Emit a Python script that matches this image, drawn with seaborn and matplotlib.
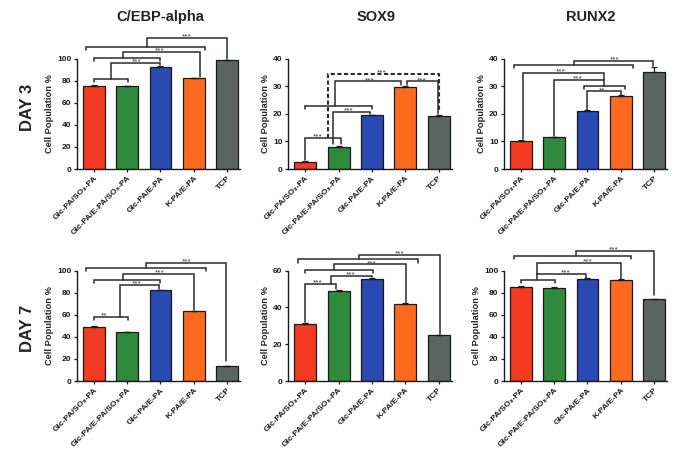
import matplotlib
matplotlib.use("Agg")
import matplotlib.pyplot as plt
import seaborn as sns
import pandas as pd
import numpy as np

sns.set_theme(style="ticks")
plt.rcParams['font.family'] = ['Liberation Sans', 'DejaVu Sans']

# ---------------- data ----------------
groups = ["Glc-PA/SO\u2083-PA", "Glc-PA/E-PA/SO\u2083-PA", "Glc-PA/E-PA", "K-PA/E-PA", "TCP"]
colors = ["#F53A22", "#2F8A3E", "#2A4AB3", "#FB6A1F", "#5A6562"]

markers = ["C/EBP-alpha", "SOX9", "RUNX2"]
days = ["DAY 3", "DAY 7"]

cebp_d3 = [75.5, 74.8, 92.5, 82.0, 98.5]
cebp_d3_err = [0.8, 0.7, 0.6, 0.6, 0.3]
sox9_d3 = [2.5, 8.1, 19.5, 29.7, 19.2]
sox9_d3_err = [0.3, 0.2, 0.2, 0.5, 0.3]
runx2_d3 = [10.3, 11.5, 21.0, 26.3, 35.2]
runx2_d3_err = [0.2, 0.2, 0.2, 0.4, 1.8]

cebp_d7 = [49.0, 43.9, 82.2, 63.0, 13.5]
cebp_d7_err = [0.8, 0.7, 0.6, 0.6, 0.3]
sox9_d7 = [31.0, 49.0, 55.5, 42.0, 25.0]
sox9_d7_err = [0.7, 0.6, 0.4, 0.3, 0.2]
runx2_d7 = [85.5, 84.3, 92.6, 91.6, 74.3]
runx2_d7_err = [0.5, 0.6, 0.6, 0.6, 0.3]

ytops = [[100, 40, 40], [100, 60, 100]]
ysteps = [[20, 10, 10], [20, 20, 20]]

values = [[cebp_d3, sox9_d3, runx2_d3], [cebp_d7, sox9_d7, runx2_d7]]
errors = [[cebp_d3_err, sox9_d3_err, runx2_d3_err], [cebp_d7_err, sox9_d7_err, runx2_d7_err]]

# significance annotations: ("g", x0, x1, y) group bracket; ("l", xa, ya, xb, yb, y, text, tx, dashed)
annots = [
    [
        [("g", 0, 1.02, 81.7), ("l", 0.5, 81.7, 2.0, 93.8, 95.8, "***", 1.28, False),
         ("g", 0, 2.0, 100.6), ("l", 0.87, 100.6, 3.19, 83.5, 106.3, "***", 1.98, False),
         ("g", -0.25, 3.34, 110.2), ("l", 1.6, 110.2, 4.0, 99.5, 118.6, "***", 2.8, False)],
        [("l", 0.0, 3.4, 1.07, 8.9, 11.4, "***", 0.38, False),
         ("g", 0, 2.0, 22.7), ("l", 0.82, 9.0, 1.93, 19.9, 20.6, "***", 1.3, False),
         ("l", 0.9, 22.7, 2.88, 30.3, 31.7, "***", 1.93, False),
         ("l", 3.06, 30.3, 3.98, 19.8, 31.7, "***", 3.48, False),
         ("l", 0.67, 11.4, 4.0, 21.0, 34.4, "***", 2.28, True)],
        [("l", 2.0, 21.3, 3.01, 26.9, 28.1, "**", 2.44, False),
         ("g", 1.89, 3.12, 30.2), ("l", 1.0, 11.9, 2.5, 30.2, 32.1, "***", 1.72, False),
         ("l", 0.04, 10.7, 2.5, 32.1, 34.8, "***", 1.19, False),
         ("g", -0.22, 3.36, 37.6), ("l", 1.59, 37.6, 3.99, 37.2, 39.0, "***", 2.81, False)],
    ],
    [
        [("g", 0, 1.03, 57.9), ("t", 0.31, 57.9, "**"),
         ("l", 0.78, 57.9, 1.95, 83.3, 87.0, "***", 1.28, False),
         ("g", 0, 2.0, 91.8), ("l", 0.88, 91.8, 3.0, 64.0, 97.0, "***", 1.98, False),
         ("g", -0.25, 3.36, 102.1), ("l", 1.56, 102.1, 3.99, 17.7, 107.0, "***", 2.8, False)],
        [("l", 0.0, 32.0, 0.92, 50.2, 52.7, "***", 0.36, False),
         ("l", 0.77, 52.7, 1.99, 56.2, 56.9, "***", 1.37, False),
         ("g", 0, 2.02, 60.5), ("l", 0.87, 60.5, 3.03, 42.6, 63.3, "***", 2.0, False),
         ("g", -0.23, 3.38, 66.0), ("l", 1.62, 66.0, 4.03, 25.6, 68.4, "***", 2.83, False)],
        [("g", 0, 1.02, 91.8), ("l", 0.49, 91.8, 1.97, 93.4, 97.0, "***", 1.34, False),
         ("l", 0.49, 97.0, 3.01, 92.4, 107.0, "***", 2.0, False),
         ("g", -0.23, 3.32, 113.0), ("l", 1.64, 113.0, 4.01, 78.0, 118.0, "***", 2.79, False)],
    ],
]

# ---------------- figure ----------------
fig = plt.figure(figsize=(6.86, 4.51), dpi=100)
lefts = [77, 288, 504]
widths = [163, 164, 163]
bottoms_px = [169, 381]
height_px = 110.5
W, H = 686, 451

line_c = "#2b2b2b"
lw_b = 1.1


def star(ax, x, y, txt):
    ax.annotate(txt, xy=(x, y), xytext=(0, -0.4), textcoords="offset points",
                ha="center", va="baseline", fontsize=6, color="#3a3a3a",
                annotation_clip=False, zorder=6)


for r in range(2):
    for c in range(3):
        ax = fig.add_axes([lefts[c] / W, (H - bottoms_px[r]) / H, widths[c] / W, height_px / H])
        df = pd.DataFrame({"group": groups, "value": values[r][c]})
        sns.barplot(data=df, x="group", y="value", hue="group", palette=colors, order=groups,
                    hue_order=groups, width=0.66, edgecolor="#1a1a1a", linewidth=0.9,
                    errorbar=None, legend=False, ax=ax, saturation=1)
        err = errors[r][c]
        ax.errorbar(np.arange(5), values[r][c], yerr=[np.zeros(5), err], fmt="none",
                    ecolor="#1a1a1a", elinewidth=0.9, capsize=2.5, capthick=0.9)
        ytop = ytops[r][c]
        ax.set_ylim(0, ytop)
        ax.set_xlim(-0.52, 4.4)
        ax.set_yticks(np.arange(0, ytop + 1, ysteps[r][c]))
        ax.set_xlabel("")
        ax.set_ylabel("Cell Population %", fontsize=6.7, fontweight="bold", labelpad=2)
        ax.set_xticks(range(5))
        ax.set_xticklabels(groups, rotation=45, ha="right", rotation_mode="anchor",
                           fontsize=6.0, fontweight="bold")
        for lab in ax.get_yticklabels():
            lab.set_fontsize(6.0)
            lab.set_fontweight("bold")
        ax.tick_params(axis="both", length=2.5, width=0.9, pad=1.5, colors="#1a1a1a")
        sns.despine(ax=ax)
        for s in ["left", "bottom"]:
            ax.spines[s].set_linewidth(1.0)
            ax.spines[s].set_color("#1a1a1a")
        tick = 0.028 * ytop
        for a in annots[r][c]:
            if a[0] == "g":
                _, x0, x1, y = a
                ax.plot([x0, x0, x1, x1], [y - tick, y, y, y - tick], color=line_c, lw=lw_b,
                        clip_on=False, solid_joinstyle="miter")
            elif a[0] == "t":
                _, tx, y, txt = a
                star(ax, tx, y, txt)
            else:
                _, xa, ya, xb, yb, y, txt, tx, dashed = a
                ax.plot([xa, xa, xb, xb], [ya, y, y, yb], color=line_c,
                        lw=lw_b + (0.4 if dashed else 0), ls=(0, (2, 1.2)) if dashed else "-",
                        clip_on=False, solid_joinstyle="miter")
                star(ax, tx, y, txt)

title_x = [160.5, 376.5, 591]
for c in range(3):
    fig.text(title_x[c] / W, 1 - 17 / H, markers[c], ha="center", va="center",
             fontsize=10.5, fontweight="bold", color="#222222")
day_y = [107, 328]
for r in range(2):
    fig.text(28 / W, 1 - day_y[r] / H, days[r], ha="center", va="center", rotation=90,
             fontsize=12, fontweight="bold", color="#222222")

fig.savefig("out.png", dpi=100, facecolor="white")
